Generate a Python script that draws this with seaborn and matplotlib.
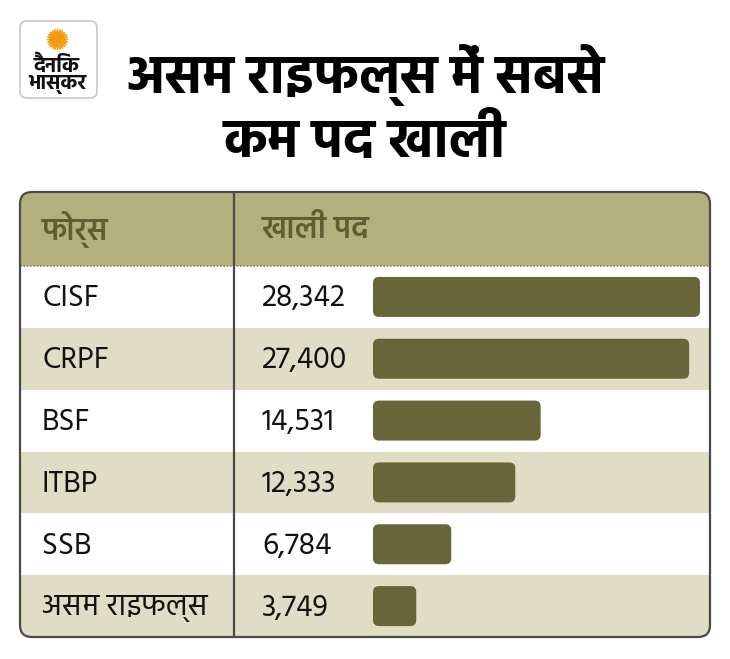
import matplotlib
matplotlib.use('Agg')
import matplotlib.pyplot as plt
import seaborn as sns
import pandas as pd
from matplotlib.patches import FancyBboxPatch, Rectangle, Circle

# data
forces = ['CISF', 'CRPF', 'BSF', 'ITBP', 'SSB', 'असम राइफल्स']
vacancies = [28342, 27400, 14531, 12333, 6784, 3749]
header = ['फोर्स', 'खाली पद']
title_lines = ['असम राइफल्स में सबसे', 'कम पद खाली']
logo_lines = ['दैनिक', 'भास्कर']

df = pd.DataFrame({'force': forces, 'vacancies': vacancies})

sns.set_style('white')
plt.rcParams['font.family'] = ['Hind', 'DejaVu Sans']

HEAD_BG = '#b4b07c'
HEAD_TXT = '#5f5e30'
ROW_BG = '#dfddc3'
BAR = '#676639'
EDGE = '#4a4a4a'

fig = plt.figure(figsize=(7.3, 6.59), dpi=100)
fig.patch.set_facecolor('white')

# background axes in pixel units (y down)
bg = fig.add_axes([0, 0, 1, 1])
bg.set_xlim(0, 730)
bg.set_ylim(659, 0)
bg.axis('off')

# logo
logo = FancyBboxPatch((20, 21), 77, 77, boxstyle='round,pad=0,rounding_size=7',
                      fc='white', ec='#c8c8c8', lw=1.2)
bg.add_patch(logo)
bg.scatter([57], [39], s=210, marker=(24, 1, 0), color='#f6a21c', zorder=3)
bg.add_patch(Circle((57, 39), 7, color='#f39a12', zorder=4))
bg.text(57, 66, logo_lines[0], ha='center', va='center', fontsize=15,
        fontweight='bold', color='#111111')
bg.text(57, 84, logo_lines[1], ha='center', va='center', fontsize=15,
        fontweight='bold', color='#111111')

# title
bg.text(365, 75, title_lines[0], ha='center', va='center', fontsize=39,
        fontweight='bold', color='black')
bg.text(365, 141, title_lines[1], ha='center', va='center', fontsize=39,
        fontweight='bold', color='black')

# table geometry
tx0, tx1 = 20, 710
ty0, ty1 = 192, 637
head_h = 74
col_x = 234
row_h = (ty1 - ty0 - head_h) / len(forces)

clip = FancyBboxPatch((tx0, ty0), tx1 - tx0, ty1 - ty0,
                      boxstyle='round,pad=0,rounding_size=12',
                      fc='none', ec='none', transform=bg.transData)
bg.add_patch(clip)

hdr = Rectangle((tx0, ty0), tx1 - tx0, head_h, fc=HEAD_BG, ec='none', zorder=1)
bg.add_patch(hdr)
hdr.set_clip_path(clip)
for i in range(len(forces)):
    y = ty0 + head_h + i * row_h
    r = Rectangle((tx0, y), tx1 - tx0, row_h,
                  fc='white' if i % 2 == 0 else ROW_BG, ec='none', zorder=1)
    bg.add_patch(r)
    r.set_clip_path(clip)

# dotted header separator
bg.plot([tx0, tx1], [ty0 + head_h, ty0 + head_h], color='#8a8860',
        lw=1.2, ls=(0, (1, 1)), zorder=2)

border = FancyBboxPatch((tx0, ty0), tx1 - tx0, ty1 - ty0,
                        boxstyle='round,pad=0,rounding_size=12',
                        fc='none', ec=EDGE, lw=1.6, zorder=5)
bg.add_patch(border)
bg.plot([col_x, col_x], [ty0, ty1], color=EDGE, lw=1.6, zorder=5)

# header text
bg.text(42, ty0 + head_h / 2 + 1, header[0], ha='left', va='center',
        fontsize=22, color=HEAD_TXT, fontweight='semibold')
bg.text(262, ty0 + head_h / 2 + 1, header[1], ha='left', va='center',
        fontsize=22, color=HEAD_TXT, fontweight='semibold')

# row text
for i, (f, v) in enumerate(zip(forces, vacancies)):
    yc = ty0 + head_h + (i + 0.5) * row_h + 1.5
    bg.text(42, yc, f, ha='left', va='center', fontsize=22, color='#111111')
    bg.text(262, yc, f'{v:,}', ha='left', va='center', fontsize=22,
            color='#111111')

# bars axes
bx0, bx1 = 373, 700
by0, by1 = ty0 + head_h, ty1
ax = fig.add_axes([bx0 / 730, 1 - by1 / 659, (bx1 - bx0) / 730, (by1 - by0) / 659])
ax.patch.set_alpha(0)
sns.barplot(data=df, x='vacancies', y='force', orient='h', color=BAR,
            width=40 / row_h, ax=ax, saturation=1)
ax.set_xlim(0, max(vacancies))
ax.set_ylim(len(forces) - 0.5, -0.5)
ax.axis('off')

# swap bars for rounded ones drawn in pixel space
fig.canvas.draw()
inv = bg.transData.inverted()
for p in list(ax.patches):
    ext = p.get_window_extent()
    (x0, y0), (x1, y1) = inv.transform([[ext.x0, ext.y0], [ext.x1, ext.y1]])
    top, h = min(y0, y1), abs(y1 - y0)
    bg.add_patch(FancyBboxPatch((x0, top), x1 - x0, h,
                                boxstyle='round,pad=0,rounding_size=6',
                                fc=BAR, ec='none', zorder=4))
    p.remove()

fig.savefig('out.png', dpi=100)
